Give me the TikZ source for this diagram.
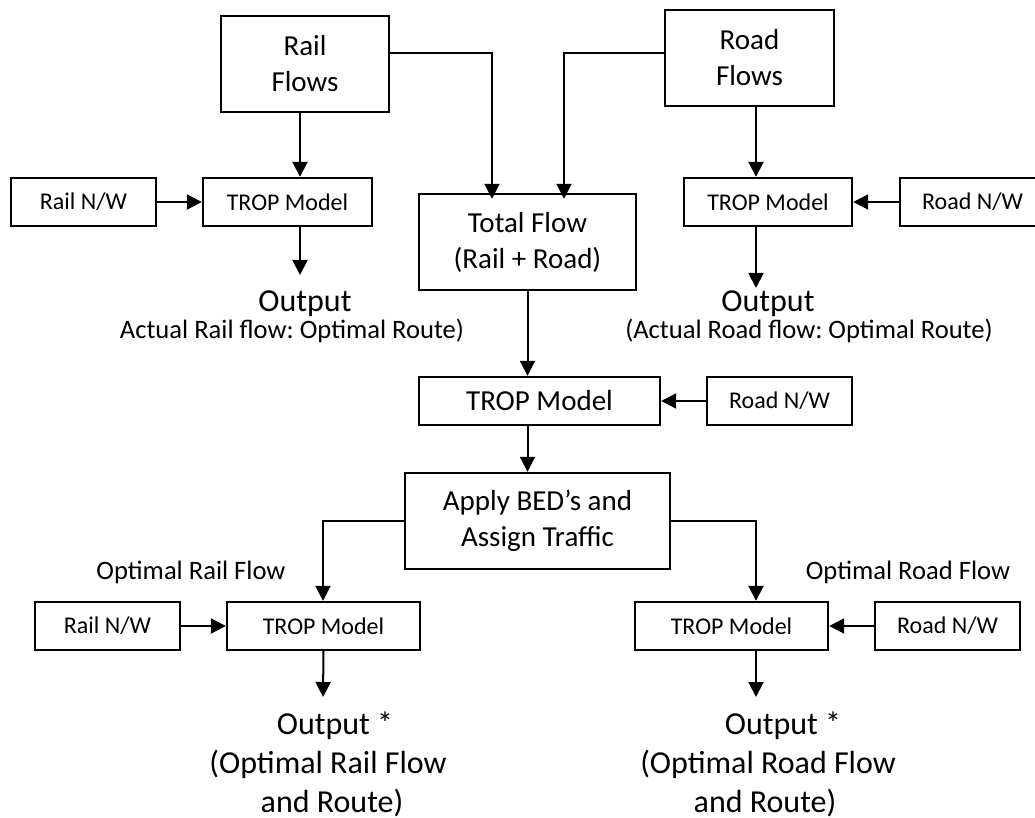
\documentclass[tikz,border=0pt]{standalone}
\usepackage{fontspec}
\setmainfont{Carlito}
\usetikzlibrary{arrows.meta}
\frenchspacing

\begin{document}
\begin{tikzpicture}[x=0.5pt,y=-0.5pt,
    box/.style={draw, line width=1.2pt, inner sep=0pt, align=center},
    big/.style={font=\fontsize{14.5pt}{18pt}\selectfont},
    mid/.style={font=\fontsize{13.3pt}{16pt}\selectfont},
    small/.style={font=\fontsize{12pt}{14pt}\selectfont},
    outtext/.style={anchor=base, font=\fontsize{16pt}{19pt}\selectfont},
    arr/.style={line width=1pt, -{Triangle[length=7.5pt,width=7.5pt]}}]
    \useasboundingbox (0,0) rectangle (1035,818);

    % input flows
    \node[box,big,minimum width=84pt,minimum height=48pt] (railflows) at (305,64) {Rail\\Flows};
    \node[box,big,minimum width=84.5pt,minimum height=48pt] (roadflows) at (749.5,58) {Road\\Flows};

    % first row of models
    \node[box,small,minimum width=72.5pt,minimum height=24pt] (railnwa) at (83.5,202) {Rail N/W};
    \node[box,small,minimum width=84.5pt,minimum height=24pt] (tropa) at (287.5,202) {TROP Model};
    \node[box,big,minimum width=108.5pt,minimum height=48pt] (total) at (527.5,242) {Total Flow\\(Rail + Road)};
    \node[box,small,minimum width=84pt,minimum height=24pt] (tropb) at (768,202) {TROP Model};
    \node[box,small,minimum width=72.5pt,minimum height=24pt] (roadnwa) at (972.5,202) {Road N/W};

    \node[outtext] (outa) at (305,312) {Output};
    \node[mid,anchor=base] (outadesc) at (292,339) {Actual Rail flow: Optimal Route)};
    \node[outtext] (outb) at (768,312) {Output};
    \node[mid,anchor=base] (outbdesc) at (809,339) {(Actual Road flow: Optimal Route)};

    % combined model
    \node[box,big,minimum width=120.5pt,minimum height=24pt] (tropc) at (539.5,401) {TROP Model};
    \node[box,small,minimum width=72.5pt,minimum height=24pt] (roadnwb) at (779.5,401) {Road N/W};
    \node[box,big,minimum width=132.5pt,minimum height=48pt] (apply) at (537.5,521) {Apply BED’s and\\Assign Traffic};

    % bottom row
    \node[mid,anchor=base] (optrail) at (191,580) {Optimal Rail Flow};
    \node[mid,anchor=base] (optroad) at (908,580) {Optimal Road Flow};
    \node[box,small,minimum width=72.5pt,minimum height=24pt] (railnwb) at (107.5,626) {Rail N/W};
    \node[box,small,minimum width=96.5pt,minimum height=24pt] (tropd) at (323.5,626) {TROP Model};
    \node[box,small,minimum width=96.5pt,minimum height=24pt] (trope) at (731.5,626) {TROP Model};
    \node[box,small,minimum width=72.5pt,minimum height=24pt] (roadnwc) at (947.5,626) {Road N/W};

    \node[outtext] (outc) at (335,734) {Output *};
    \node[outtext] (outcdesc) at (328,773) {(Optimal Rail Flow};
    \node[outtext] (outcend) at (332,812) {and Route)};
    \node[outtext] (outd) at (783,734) {Output *};
    \node[outtext] (outddesc) at (768,773) {(Optimal Road Flow};
    \node[outtext] (outdend) at (765,812) {and Route)};

    % bend points
    \coordinate (ja) at (300,275);
    \coordinate (jb) at (492,53);
    \coordinate (jc) at (564,53);
    \coordinate (jd) at (756,288);
    \coordinate (je) at (756,521);
    \coordinate (jf) at (756,697);
    \coordinate (jg) at (323,697);

    \draw[arr] (ja |- railflows.south) -- (ja |- tropa.north);
    \draw[arr] (railnwa) -- (tropa);
    \draw[arr] (ja |- tropa.south) -- (ja);
    \draw[arr] (railflows.east |- jb) -- (jb) -- ([yshift=-3pt]jb |- total.north);
    \draw[arr] (roadflows.west |- jc) -- (jc) -- ([yshift=-3pt]jc |- total.north);
    \draw[arr] (jd |- roadflows.south) -- (jd |- tropb.north);
    \draw[arr] (roadnwa) -- (tropb);
    \draw[arr] (jd |- tropb.south) -- (jd);

    \draw[arr] (total.south) -- (total.south |- tropc.north);
    \draw[arr] (roadnwb) -- (tropc);
    \draw[arr] (total.south |- tropc.south) -- (total.south |- apply.north);

    \draw[arr] (apply.west) -| (jg |- tropd.north);
    \draw[arr] (apply.east) -- (je) -- (je |- trope.north);
    \draw[arr] (railnwb) -- (tropd);
    \draw[arr] (roadnwc) -- (trope);
    \draw[arr] (tropd.south) -- (jg);
    \draw[arr] (jf |- trope.south) -- (jf);
\end{tikzpicture}
\end{document}
